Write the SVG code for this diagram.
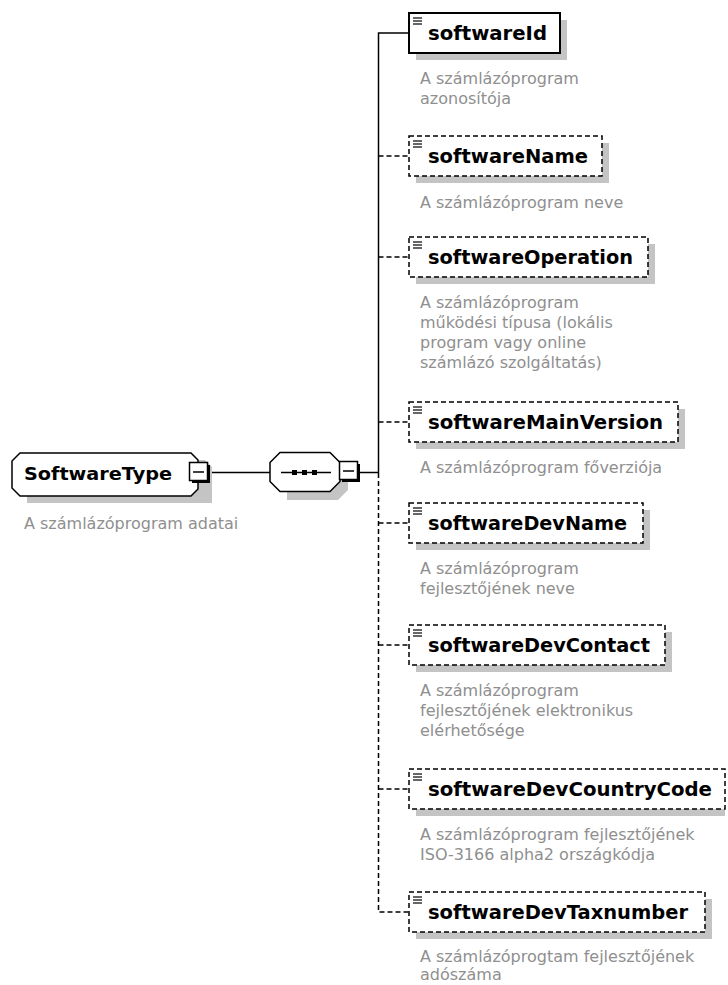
<svg xmlns="http://www.w3.org/2000/svg" width="728" height="985" viewBox="0 0 728 985">
<style>
.bg{fill:#fff}
.shadow{fill:#c4c4c4}
.box{fill:#fff;stroke:#000;stroke-width:2}
.opt{fill:#fff;stroke:#000;stroke-width:1.5;stroke-dasharray:5,3}
.name{font-family:"DejaVu Sans",Verdana,sans-serif;font-weight:bold;font-size:19.5px;fill:#000}
.desc{font-family:"DejaVu Sans",Verdana,sans-serif;font-size:16px;fill:#8f8f8f}
.icon{stroke:#000;stroke-width:1.2}
.line{stroke:#000;stroke-width:1.5;fill:none}
.dline{stroke:#000;stroke-width:1.5;fill:none;stroke-dasharray:5,3}
.cbox{fill:#fff;stroke:#000;stroke-width:1.5}
.cshadow{fill:#000}
</style>
<defs>
<g id="ic"><line class="icon" x1="0" y1="0" x2="9" y2="0"/><line class="icon" x1="0" y1="3" x2="9" y2="3"/><line class="icon" x1="0" y1="6" x2="9" y2="6"/></g>
</defs>
<rect class="bg" x="0" y="0" width="728" height="985"/>

<g id="connectors">
<line class="line" x1="210" y1="472.5" x2="271" y2="472.5"/>
<line class="line" x1="359" y1="472.5" x2="378.5" y2="472.5"/>
<polyline class="line" points="409,33 378.5,33 378.5,473"/>
<polyline class="dline" points="378.5,473 378.5,912 409,912"/>
<line class="dline" x1="378.5" y1="156" x2="409" y2="156"/>
<line class="dline" x1="378.5" y1="257" x2="409" y2="257"/>
<line class="dline" x1="378.5" y1="422" x2="409" y2="422"/>
<line class="dline" x1="378.5" y1="523" x2="409" y2="523"/>
<line class="dline" x1="378.5" y1="645" x2="409" y2="645"/>
<line class="dline" x1="378.5" y1="789" x2="409" y2="789"/>
</g>

<g id="SoftwareType">
<polygon class="shadow" points="27,460 205,460 212,467 212,503 27,503"/>
<polygon class="box" style="stroke-width:1.5" points="20,453 191,453 198,460 198,489 191,496 20,496 12,488 12,461"/>
<text class="name" x="24" y="480" style="font-size:18px" textLength="148" lengthAdjust="spacingAndGlyphs">SoftwareType</text>
<rect class="cshadow" x="192" y="465" width="18" height="18"/>
<rect class="cbox" x="189.5" y="462.5" width="18" height="18"/>
<line class="line" x1="193" y1="472" x2="204" y2="472"/>
<text class="desc" x="24" y="529">A számlázóprogram adatai</text>
</g>

<g id="sequence">
<polygon class="shadow" points="287,461 338,461 348,471 348,490 338,500 287,500"/>
<polygon class="box" style="stroke-width:1.5" points="280,452.5 330,452.5 340,462.5 340,481.5 330,491.5 280,491.5 270,481.5 270,462.5"/>
<line class="line" x1="281" y1="472.5" x2="331" y2="472.5"/>
<rect x="292" y="470" width="5" height="5" fill="#000"/>
<rect x="302" y="470" width="5" height="5" fill="#000"/>
<rect x="312" y="470" width="5" height="5" fill="#000"/>
<rect class="cshadow" x="342" y="464" width="18" height="18"/>
<rect class="cbox" x="339.5" y="461.5" width="18" height="18"/>
<line class="line" x1="343" y1="471" x2="354" y2="471"/>
</g>

<g id="softwareId">
<rect class="shadow" x="416" y="20" width="151" height="40"/>
<rect class="box" x="409" y="13" width="151" height="40"/>
<use href="#ic" x="413" y="18"/>
<text class="name" x="428" y="40" textLength="119" lengthAdjust="spacingAndGlyphs">softwareId</text>
<text class="desc" x="420" y="84">A számlázóprogram</text>
<text class="desc" x="420" y="104">azonosítója</text>
</g>

<g id="softwareName">
<rect class="shadow" x="416" y="143" width="193" height="40"/>
<rect class="opt" x="409" y="136" width="193" height="40"/>
<use href="#ic" x="413" y="141"/>
<text class="name" x="428" y="163" textLength="160" lengthAdjust="spacingAndGlyphs">softwareName</text>
<text class="desc" x="420" y="208">A számlázóprogram neve</text>
</g>

<g id="softwareOperation">
<rect class="shadow" x="416" y="244" width="239" height="40"/>
<rect class="opt" x="409" y="237" width="239" height="40"/>
<use href="#ic" x="413" y="242"/>
<text class="name" x="428" y="264" textLength="205" lengthAdjust="spacingAndGlyphs">softwareOperation</text>
<text class="desc" x="420" y="308">A számlázóprogram</text>
<text class="desc" x="420" y="328">működési típusa (lokális</text>
<text class="desc" x="420" y="348">program vagy online</text>
<text class="desc" x="420" y="368">számlázó szolgáltatás)</text>
</g>

<g id="softwareMainVersion">
<rect class="shadow" x="416" y="409" width="269" height="40"/>
<rect class="opt" x="409" y="402" width="269" height="40"/>
<use href="#ic" x="413" y="407"/>
<text class="name" x="428" y="429" textLength="235" lengthAdjust="spacingAndGlyphs">softwareMainVersion</text>
<text class="desc" x="420" y="473">A számlázóprogram főverziója</text>
</g>

<g id="softwareDevName">
<rect class="shadow" x="416" y="510" width="234" height="40"/>
<rect class="opt" x="409" y="503" width="234" height="40"/>
<use href="#ic" x="413" y="508"/>
<text class="name" x="428" y="530" textLength="199" lengthAdjust="spacingAndGlyphs">softwareDevName</text>
<text class="desc" x="420" y="574">A számlázóprogram</text>
<text class="desc" x="420" y="594">fejlesztőjének neve</text>
</g>

<g id="softwareDevContact">
<rect class="shadow" x="416" y="632" width="256" height="40"/>
<rect class="opt" x="409" y="625" width="256" height="40"/>
<use href="#ic" x="413" y="630"/>
<text class="name" x="428" y="652" textLength="222" lengthAdjust="spacingAndGlyphs">softwareDevContact</text>
<text class="desc" x="420" y="696">A számlázóprogram</text>
<text class="desc" x="420" y="716">fejlesztőjének elektronikus</text>
<text class="desc" x="420" y="736">elérhetősége</text>
</g>

<g id="softwareDevCountryCode">
<rect class="shadow" x="416" y="776" width="309" height="40"/>
<rect class="opt" x="409" y="769" width="316" height="40"/>
<use href="#ic" x="413" y="774"/>
<text class="name" x="428" y="796" textLength="284" lengthAdjust="spacingAndGlyphs">softwareDevCountryCode</text>
<text class="desc" x="420" y="840">A számlázóprogram fejlesztőjének</text>
<text class="desc" x="420" y="860">ISO-3166 alpha2 országkódja</text>
</g>

<g id="softwareDevTaxnumber">
<rect class="shadow" x="416" y="899" width="296" height="40"/>
<rect class="opt" x="409" y="892" width="296" height="40"/>
<use href="#ic" x="413" y="897"/>
<text class="name" x="428" y="919" textLength="260" lengthAdjust="spacingAndGlyphs">softwareDevTaxnumber</text>
<text class="desc" x="420" y="962">A számlázóprogtam fejlesztőjének</text>
<text class="desc" x="420" y="980">adószáma</text>
</g>
</svg>
